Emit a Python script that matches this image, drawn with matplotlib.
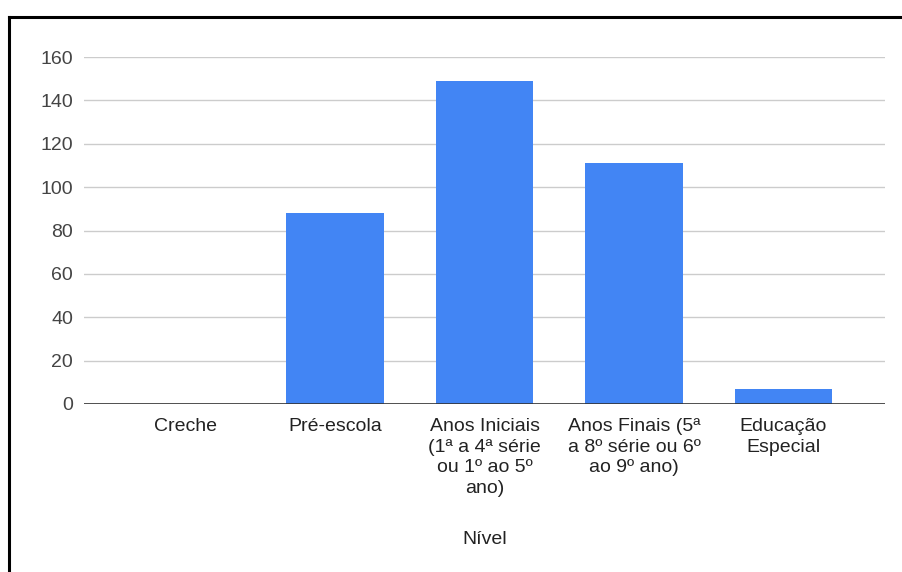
import matplotlib
matplotlib.use("Agg")
import matplotlib.pyplot as plt
from matplotlib.lines import Line2D
import numpy as np

plt.rcParams['font.family'] = ['Liberation Sans', 'DejaVu Sans']

categories = ['Creche', 'Pré-escola',
              'Anos Iniciais\n(1ª a 4ª série\nou 1º ao 5º\nano)',
              'Anos Finais (5ª\na 8º série ou 6º\nao 9º ano)',
              'Educação\nEspecial']
values = [0, 88, 149, 111, 7]
y_ticks = [0, 20, 40, 60, 80, 100, 120, 140, 160]

W, H = 903, 572
fig = plt.figure(figsize=(W / 100, H / 100), dpi=100)
ax = fig.add_axes([84 / W, (H - 404) / H, (885 - 84) / W, (404 - 57) / H])

x = np.arange(len(categories))
ax.bar(x, values, width=0.65, color='#4285F4', zorder=3)

ax.set_xlim(-0.68, 4.68)
ax.set_ylim(0, 160)
ax.set_yticks(y_ticks)
ax.set_xticks(x)
ax.set_xticklabels(categories, fontsize=14, color='#222222', linespacing=1.28)
ax.tick_params(axis='y', length=0, pad=8, labelsize=14, labelcolor='#444444')
ax.tick_params(axis='x', length=0, pad=10)

ax.grid(axis='y', color='#cccccc', linewidth=1, zorder=0)
ax.axhline(0, color='#333333', linewidth=1.2, zorder=4)
for s in ax.spines.values():
    s.set_visible(False)

fig.text((84 + 885) / 2 / W, 1 - 540 / H, 'Nível', ha='center', va='center',
         fontsize=14, color='#222222')

# frame around the chart (left and top edges)
fig.add_artist(Line2D([9.5 / W, 9.5 / W], [0, 1 - 16.5 / H], color='black',
                      linewidth=2.2, transform=fig.transFigure))
fig.add_artist(Line2D([8.5 / W, 1], [1 - 16.5 / H, 1 - 16.5 / H], color='black',
                      linewidth=2.2, transform=fig.transFigure))

fig.savefig('out.png', dpi=100)
